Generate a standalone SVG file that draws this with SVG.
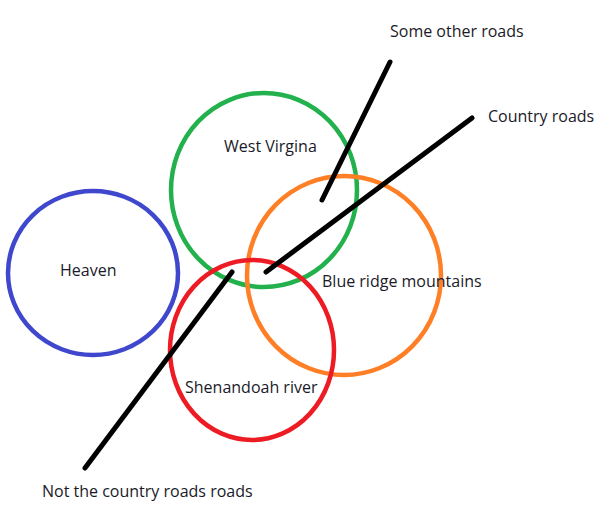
<svg xmlns="http://www.w3.org/2000/svg" width="610" height="513" viewBox="0 0 610 513">
<style>
.c{fill:none;stroke-width:4.5}
.r{stroke:#000;stroke-width:5;stroke-linecap:round}
text{font-family:"Open Sans","Liberation Sans",sans-serif;font-size:16px;fill:#1a1a28}
</style>
<rect width="610" height="513" fill="#fff"/>
<g id="heaven"><ellipse class="c" cx="93" cy="273" rx="85" ry="82" stroke="#3f48cc"/><text x="60" y="276">Heaven</text></g>
<g id="west-virgina"><ellipse class="c" cx="264" cy="190" rx="93" ry="97" stroke="#22b14c"/><text x="224" y="152">West Virgina</text></g>
<g id="blue-ridge"><ellipse class="c" cx="344" cy="275.5" rx="97" ry="99.5" stroke="#ff7f27"/><text x="322" y="287">Blue ridge mountains</text></g>
<g id="shenandoah"><ellipse class="c" cx="252" cy="350" rx="82" ry="90" stroke="#ed1c24"/><text x="185" y="393">Shenandoah river</text></g>
<g id="connectors">
<line class="r" x1="390" y1="62" x2="322" y2="200"/>
<line class="r" x1="472" y1="118" x2="266" y2="272"/>
<line class="r" x1="232" y1="272" x2="85" y2="468"/>
</g>
<g id="labels">
<text x="390" y="37">Some other roads</text>
<text x="488" y="122">Country roads</text>
<text x="42" y="497">Not the country roads roads</text>
</g>
</svg>
